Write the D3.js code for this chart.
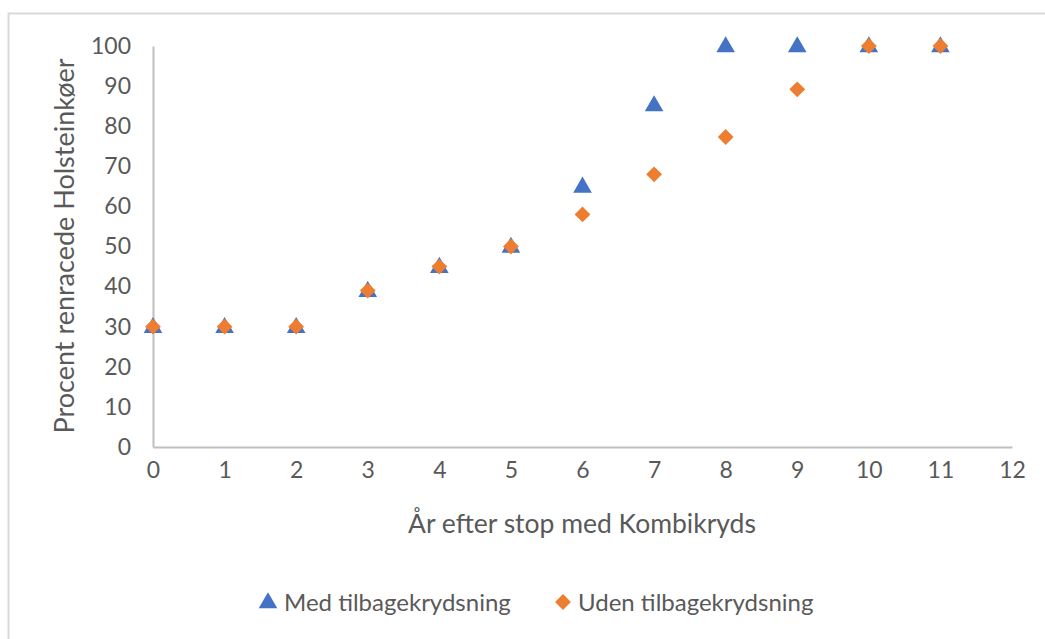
<!DOCTYPE html>
<html><head><meta charset="utf-8">
<script src="https://cdn.jsdelivr.net/npm/d3@7"></script>
<style>body{margin:0;background:#fff}svg{display:block}</style>
</head><body>
<svg id="c" width="1045" height="639"></svg>
<script>
const years = [0,1,2,3,4,5,6,7,8,9,10,11];
const medValues = [30,30,30,39,45,50,65,85.3,100,100,100,100];
const udenValues = [30,30,30,39,45,50,58,68,77.3,89.2,100,100];
const xTicks = [0,1,2,3,4,5,6,7,8,9,10,11,12];
const yTicks = [0,10,20,30,40,50,60,70,80,90,100];
const seriesNames = ["Med tilbagekrydsning","Uden tilbagekrydsning"];
const colors = ["#4472c4","#ed7d31"];
const font = "Lato, 'Open Sans', sans-serif";

const svg = d3.select("#c");
svg.append("rect").attr("x",8.5).attr("y",13.5).attr("width",1100).attr("height",700)
  .attr("fill","#fff").attr("stroke","#d9d9d9").attr("stroke-width",2);

const x = d3.scaleLinear().domain([0,12]).range([153,1012]);
const y = d3.scaleLinear().domain([0,100]).range([447,46]);

const gx = svg.append("g").attr("transform","translate(0,447)")
  .call(d3.axisBottom(x).tickValues(xTicks).tickSize(0).tickPadding(15).tickFormat(d3.format("d")));
const gy = svg.append("g").attr("transform","translate(153,0)")
  .call(d3.axisLeft(y).tickValues(yTicks).tickSize(0).tickPadding(22).tickFormat(d3.format("d")));
[gx,gy].forEach(g=>{
  g.select(".domain").attr("stroke","#bfbfbf").attr("stroke-width",2);
  g.selectAll("text").attr("fill","#595959").style("font-family",font).style("font-size","23px");
});

svg.append("text").attr("x",582).attr("y",533).attr("text-anchor","middle")
  .attr("fill","#595959").style("font-family",font).style("font-size","26.5px")
  .text("År efter stop med Kombikryds");
svg.append("text").attr("transform","translate(74,246) rotate(-90)").attr("text-anchor","middle")
  .attr("fill","#595959").style("font-family",font).style("font-size","27px")
  .text("Procent renracede Holsteinkøer");

const tri = d3.symbol().type(d3.symbolTriangle).size(150);
const dia = d3.symbol().type(d3.symbolSquare).size(125);

svg.append("g").selectAll("path").data(years).join("path")
  .attr("d",tri).attr("fill",colors[0])
  .attr("transform",(d,i)=>`translate(${x(d)},${y(medValues[i])+1})`);
svg.append("g").selectAll("path").data(years).join("path")
  .attr("d",dia).attr("fill",colors[1])
  .attr("transform",(d,i)=>`translate(${x(d)},${y(udenValues[i])}) rotate(45)`);

// legend
const lg = svg.append("g");
lg.append("path").attr("d",tri).attr("fill",colors[0]).attr("transform","translate(268,603)");
lg.append("text").attr("x",284).attr("y",611).attr("fill","#595959")
  .style("font-family",font).style("font-size","24px").text(seriesNames[0]);
lg.append("path").attr("d",dia).attr("fill",colors[1]).attr("transform","translate(563,602) rotate(45)");
lg.append("text").attr("x",578).attr("y",611).attr("fill","#595959")
  .style("font-family",font).style("font-size","24px").text(seriesNames[1]);
</script>
</body></html>
